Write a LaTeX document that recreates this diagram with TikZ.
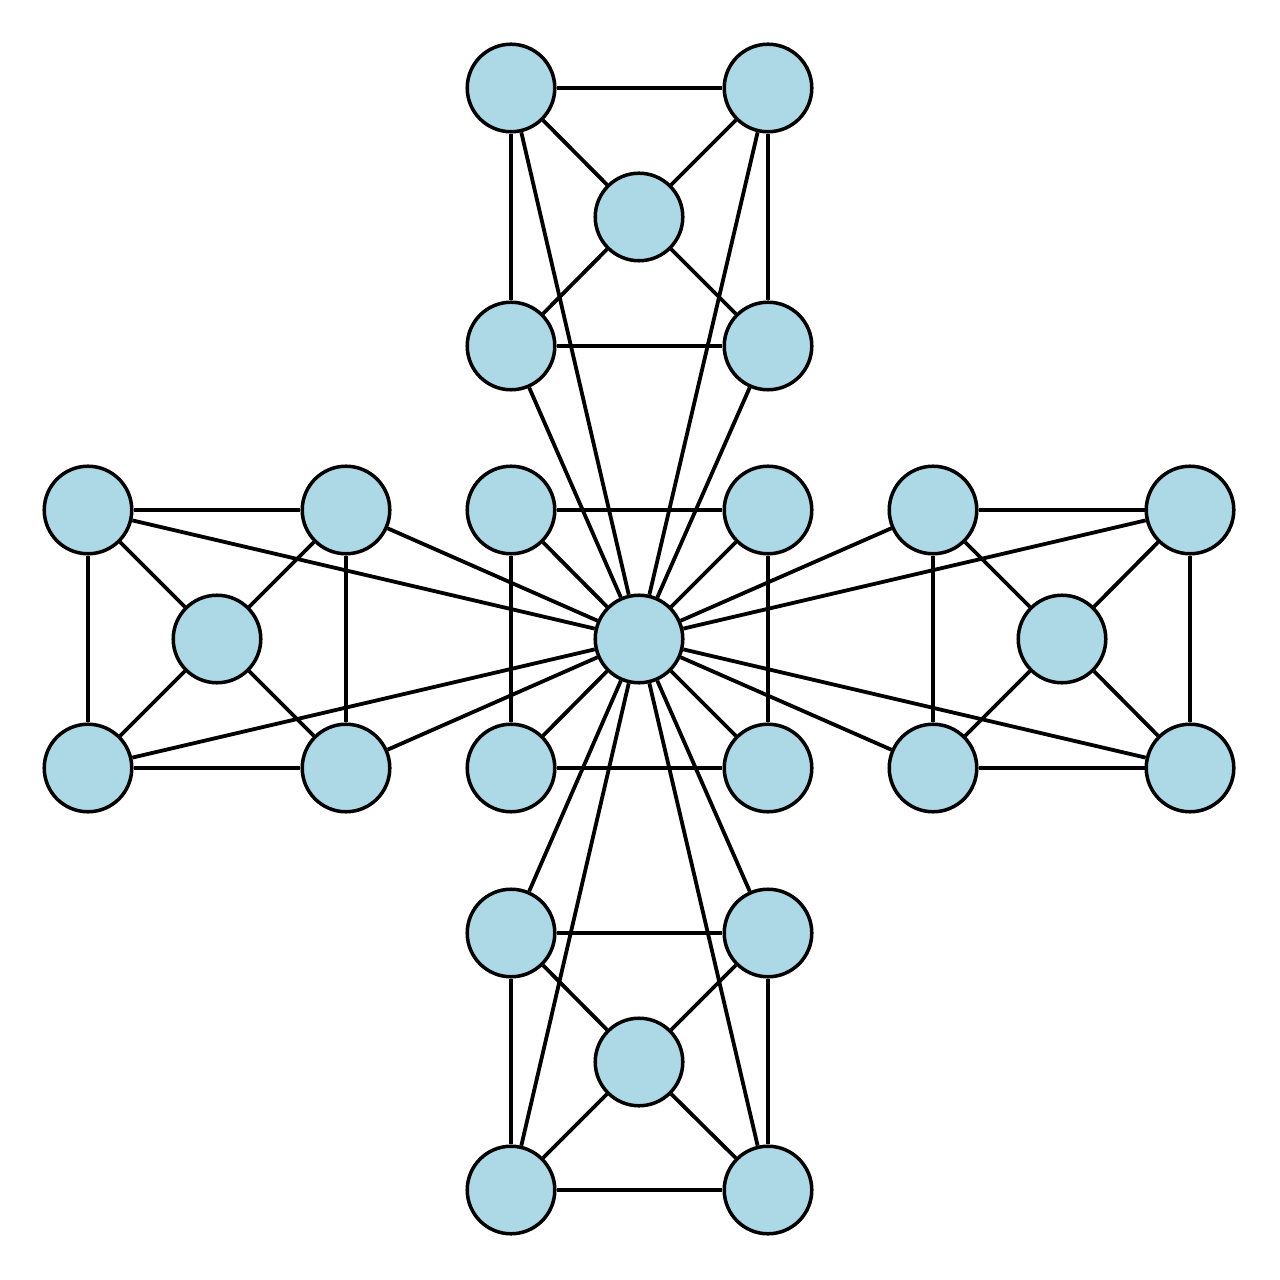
\documentclass[tikz,border=0pt]{standalone}
\definecolor{nodefill}{RGB}{173,216,230}
\begin{document}
\begin{tikzpicture}[x=0.01cm,y=-0.01cm,
  vtx/.style={circle,draw=black,fill=nodefill,line width=0.035cm,minimum size=0.875cm,inner sep=0pt},
  edge/.style={draw=black,line width=0.038cm}]
\useasboundingbox (0,0) rectangle (1280,1280);
% center
\node[vtx] (C) at (639,639) {};
% top
\node[vtx] (T1) at (511,88) {};
\node[vtx] (T2) at (768,88) {};
\node[vtx] (T3) at (639,217) {};
\node[vtx] (T4) at (511,346) {};
\node[vtx] (T5) at (768,346) {};
% bottom
\node[vtx] (B1) at (511,933) {};
\node[vtx] (B2) at (768,933) {};
\node[vtx] (B3) at (639,1062) {};
\node[vtx] (B4) at (511,1190) {};
\node[vtx] (B5) at (768,1190) {};
% left
\node[vtx] (L1) at (88,510) {};
\node[vtx] (L2) at (346,510) {};
\node[vtx] (L3) at (217,639) {};
\node[vtx] (L4) at (88,768) {};
\node[vtx] (L5) at (346,768) {};
% right
\node[vtx] (R1) at (933,510) {};
\node[vtx] (R2) at (1190,510) {};
\node[vtx] (R3) at (1062,639) {};
\node[vtx] (R4) at (933,768) {};
\node[vtx] (R5) at (1190,768) {};
% middle
\node[vtx] (M1) at (511,510) {};
\node[vtx] (M2) at (768,510) {};
\node[vtx] (M4) at (511,768) {};
\node[vtx] (M5) at (768,768) {};
\foreach \g in {T,B,L,R}{
  \draw[edge] (\g1) -- (\g2);
  \draw[edge] (\g4) -- (\g5);
  \draw[edge] (\g1) -- (\g4);
  \draw[edge] (\g2) -- (\g5);
  \draw[edge] (\g1) -- (\g3);
  \draw[edge] (\g2) -- (\g3);
  \draw[edge] (\g4) -- (\g3);
  \draw[edge] (\g5) -- (\g3);
  \draw[edge] (\g1) -- (C);
  \draw[edge] (\g2) -- (C);
  \draw[edge] (\g4) -- (C);
  \draw[edge] (\g5) -- (C);
}
\draw[edge] (M1) -- (M2);
\draw[edge] (M4) -- (M5);
\draw[edge] (M1) -- (M4);
\draw[edge] (M2) -- (M5);
\draw[edge] (M1) -- (C);
\draw[edge] (M2) -- (C);
\draw[edge] (M4) -- (C);
\draw[edge] (M5) -- (C);
\end{tikzpicture}
\end{document}
